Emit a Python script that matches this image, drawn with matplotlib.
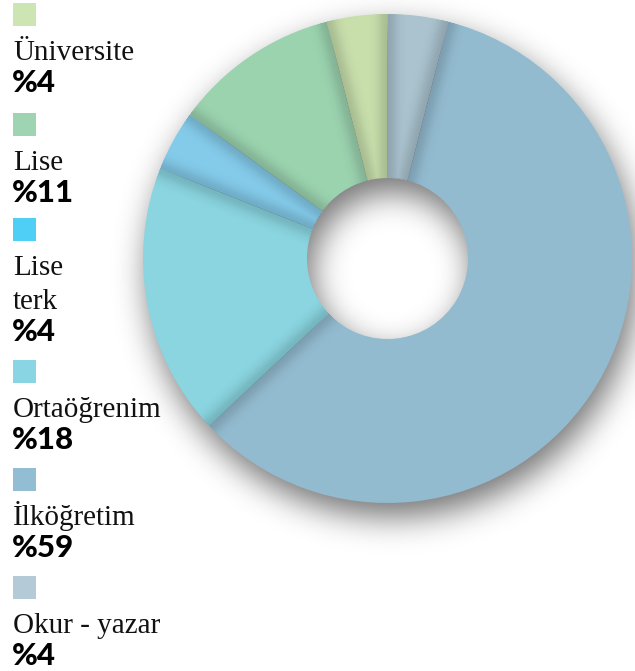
import numpy as np
import matplotlib.pyplot as plt

# education levels, clockwise from 12 o'clock
labels = ["Okur - yazar", "İlköğretim", "Ortaöğrenim", "Lise\nterk", "Lise", "Üniversite"]
shares = [4, 59, 18, 4, 11, 4]
slice_colors = ["#aac3cf", "#93bbd0", "#8ad5e0", "#84cbea", "#9bd3af", "#c8dfac"]
key_colors = ["#b4cad6", "#93bdd3", "#8ad5e3", "#4fcff5", "#9fd4b2", "#cde5b3"]

# legend reads top to bottom in reverse order of the ring
legend_order = [5, 4, 3, 2, 1, 0]
square_tops = [3, 113, 218, 360, 468, 576]

W, H = 635, 671
cx, cy = 387.5, 258.5          # ring centre, pixels from top-left
r_out, r_in = 244.5, 80.5


def Y(y):
    return H - y


def gauss_blur(img, sigma):
    k = int(3 * sigma)
    x = np.arange(-k, k + 1)
    g = np.exp(-x**2 / (2 * sigma**2))
    g /= g.sum()
    img = np.apply_along_axis(lambda v: np.convolve(v, g, mode="same"), 0, img)
    img = np.apply_along_axis(lambda v: np.convolve(v, g, mode="same"), 1, img)
    return img


fig = plt.figure(figsize=(W / 100, H / 100), dpi=100)
ax = fig.add_axes([0, 0, 1, 1])

# soft drop shadow under the ring
yy, xx = np.mgrid[0:H, 0:W] + 0.5
dx, dy = 5, 14
rr = np.hypot(xx - cx - dx, yy - cy - dy)
ring = ((rr <= r_out) & (rr >= r_in)).astype(float)
shadow = gauss_blur(ring, 16)
rgba = np.zeros((H, W, 4))
rgba[..., 3] = 0.55 * shadow
ax.imshow(rgba, extent=(0, W, 0, H), origin="upper", zorder=0, interpolation="bilinear")

wedges, _ = ax.pie(shares, colors=slice_colors, startangle=90, counterclock=False,
                   radius=r_out, center=(cx, Y(cy)),
                   wedgeprops=dict(width=r_out - r_in, linewidth=0))
for w in wedges:
    w.set_zorder(1)

# darker seams along each slice boundary
r0 = np.hypot(xx - cx, yy - cy)
phi = np.arctan2(xx - cx, -(yy - cy))     # clockwise from 12 o'clock
seam = np.zeros((H, W))
bounds = np.cumsum([0] + shares[:-1]) / 100 * 2 * np.pi
for b in bounds:
    d = np.abs(r0 * np.sin(phi - b))
    front = np.cos(phi - b) > 0
    seam = np.maximum(seam, np.where(front, np.exp(-d**2 / (2 * 7.0**2)), 0))
inside = (r0 <= r_out) & (r0 >= r_in)
seam_rgba = np.zeros((H, W, 4))
seam_rgba[..., 3] = np.where(inside, 0.15 * seam, 0)
ax.imshow(seam_rgba, extent=(0, W, 0, H), origin="upper", zorder=2, interpolation="bilinear")

# legend column on the left
for top, i in zip(square_tops, legend_order):
    ax.add_patch(plt.Rectangle((13, Y(top + 23)), 23, 23, facecolor=key_colors[i],
                               edgecolor="none", zorder=3))
    base = top + 57
    lines = labels[i].split("\n")
    for line in lines:
        ax.text(13, Y(base), line, fontfamily="Liberation Serif", fontsize=21,
                color="#111111", va="baseline", ha="left", zorder=3)
        base += 34
    ax.text(12, Y(base - 2), f"%{shares[i]}", fontfamily="Lato", fontweight="black",
            fontsize=22.5, color="black", va="baseline", ha="left", zorder=3)

ax.set_xlim(0, W)
ax.set_ylim(0, H)
ax.set_aspect("equal")
ax.axis("off")

fig.savefig("out.png", dpi=100)
